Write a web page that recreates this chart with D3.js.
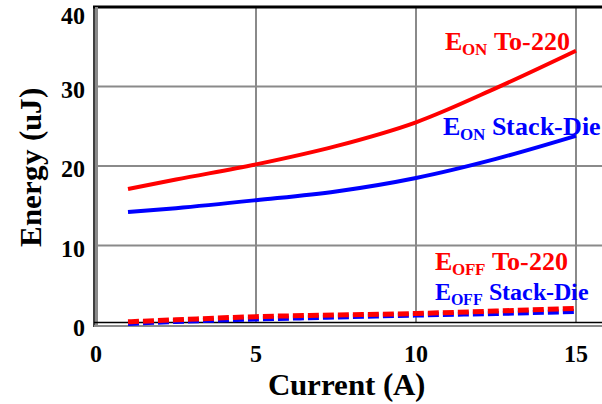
<!DOCTYPE html>
<html>
<head>
<meta charset="utf-8">
<script src="https://cdn.jsdelivr.net/npm/d3@7"></script>
<style>
  @font-face {
    font-family: "ChartSerif";
    font-weight: bold;
    src: local("Liberation Serif Bold"), local("LiberationSerif-Bold"), local("Times New Roman Bold"), local("Tinos Bold");
  }
  html, body { margin: 0; padding: 0; background: #fff; }
  svg text, svg tspan {
    font-family: "ChartSerif", "Liberation Serif", "Times New Roman", Tinos, FreeSerif, serif !important;
    font-weight: bold !important;
  }
</style>
</head>
<body>
<svg id="chart"></svg>
<script>
// Data
const current = [1, 2.5, 5, 7.5, 10, 12.5, 15];
const eonTo220 = [17.1, 18.3, 20.2, 22.5, 25.5, 29.8, 34.5];
const eonStack = [14.2, 14.7, 15.7, 16.8, 18.5, 20.9, 23.8];
const eoffTo220 = [0.4, 0.65, 1.05, 1.25, 1.45, 1.75, 2.1];
const eoffStack = [0.2, 0.45, 0.75, 1.0, 1.25, 1.45, 1.7];
const xTicks = [0, 5, 10, 15];
const yTicks = [0, 10, 20, 30, 40];

const FONT = '"Liberation Serif"';
const W = 602, H = 404;
const svg = d3.select("#chart").attr("width", W).attr("height", H);

const x = d3.scaleLinear().domain([0, 16]).range([96, 608]);
const y = d3.scaleLinear().domain([0, 40]).range([325, 7]);

// grid
const grid = svg.append("g").attr("stroke", "#8a8a8a").attr("stroke-width", 2);
grid.selectAll("line.v").data(xTicks.filter(d => d > 0)).join("line")
  .attr("x1", d => x(d)).attr("x2", d => x(d))
  .attr("y1", y(40)).attr("y2", y(0) - 2);
grid.selectAll("line.h").data(yTicks.filter(d => d > 0 && d < 40)).join("line")
  .attr("x1", x(0)).attr("x2", W)
  .attr("y1", d => y(d)).attr("y2", d => y(d));

// frame
svg.append("line").attr("x1", x(0) - 3).attr("x2", W).attr("y1", y(40)).attr("y2", y(40))
  .attr("stroke", "#000").attr("stroke-width", 3);
svg.append("line").attr("x1", x(0) - 2).attr("x2", x(0) - 2).attr("y1", y(40)).attr("y2", y(0) + 2)
  .attr("stroke", "#000").attr("stroke-width", 1.5);
svg.append("line").attr("x1", x(0) + 0.5).attr("x2", x(0) + 0.5).attr("y1", y(40)).attr("y2", y(0) + 1)
  .attr("stroke", "#8a8a8a").attr("stroke-width", 3);
svg.append("line").attr("x1", x(0) - 2).attr("x2", W).attr("y1", y(0) - 2.5).attr("y2", y(0) - 2.5)
  .attr("stroke", "#000").attr("stroke-width", 1.5);
svg.append("line").attr("x1", x(0) - 2).attr("x2", W).attr("y1", y(0) + 1).attr("y2", y(0) + 1)
  .attr("stroke", "#8a8a8a").attr("stroke-width", 2);

// tick labels
svg.append("g").selectAll("text").data(yTicks).join("text")
  .attr("x", 85).attr("y", d => Math.max(y(d) + 11, 24))
  .attr("text-anchor", "end")
  .style("font-family", FONT).style("font-weight", "bold").style("font-size", "24px")
  .text(d => d);
svg.append("g").selectAll("text").data(xTicks).join("text")
  .attr("x", d => x(d)).attr("y", 362)
  .attr("text-anchor", "middle")
  .style("font-family", FONT).style("font-weight", "bold").style("font-size", "24px")
  .text(d => d);

// axis titles
svg.append("text").attr("x", 346).attr("y", 395)
  .attr("text-anchor", "middle")
  .style("font-family", FONT).style("font-weight", "bold").style("font-size", "31px")
  .text("Current (A)");
svg.append("text").attr("transform", "translate(41,167) rotate(-90)")
  .attr("text-anchor", "middle")
  .style("font-family", FONT).style("font-weight", "bold").style("font-size", "31px")
  .text("Energy (uJ)");

// curves
const line = d3.line().x(d => x(d[0])).y(d => y(d[1])).curve(d3.curveMonotoneX);
const series = [
  { vals: eoffStack, color: "#0000ff", dash: "11,4" },
  { vals: eoffTo220, color: "#ff0000", dash: "11,4" },
  { vals: eonStack, color: "#0000ff", dash: null },
  { vals: eonTo220, color: "#ff0000", dash: null }
];
series.forEach(s => {
  svg.append("path")
    .datum(current.map((c, i) => [c, s.vals[i]]))
    .attr("d", line)
    .attr("fill", "none")
    .attr("stroke", s.color)
    .attr("stroke-width", s.dash ? 5 : 4)
    .attr("stroke-dasharray", s.dash);
});

// series labels
function label(px, py, anchor, color, sub, rest, size) {
  const t = svg.append("text").attr("x", px).attr("y", py)
    .attr("text-anchor", anchor).attr("fill", color)
    .style("font-family", FONT).style("font-weight", "bold").style("font-size", size + "px");
  t.append("tspan").text("E");
  t.append("tspan").style("font-size", Math.round(size * 0.65) + "px").attr("dy", 5).text(sub);
  t.append("tspan").attr("dy", -5).text(" " + rest);
}
label(x(14.8), y(34.6), "end", "#ff0000", "ON", "To-220", 26);
label(x(10.84), y(23.9), "start", "#0000ff", "ON", "Stack-Die", 26);
label(x(10.6), y(6.9), "start", "#ff0000", "OFF", "To-220", 26);
label(x(10.6), y(3.1), "start", "#0000ff", "OFF", "Stack-Die", 24);
</script>
</body>
</html>
